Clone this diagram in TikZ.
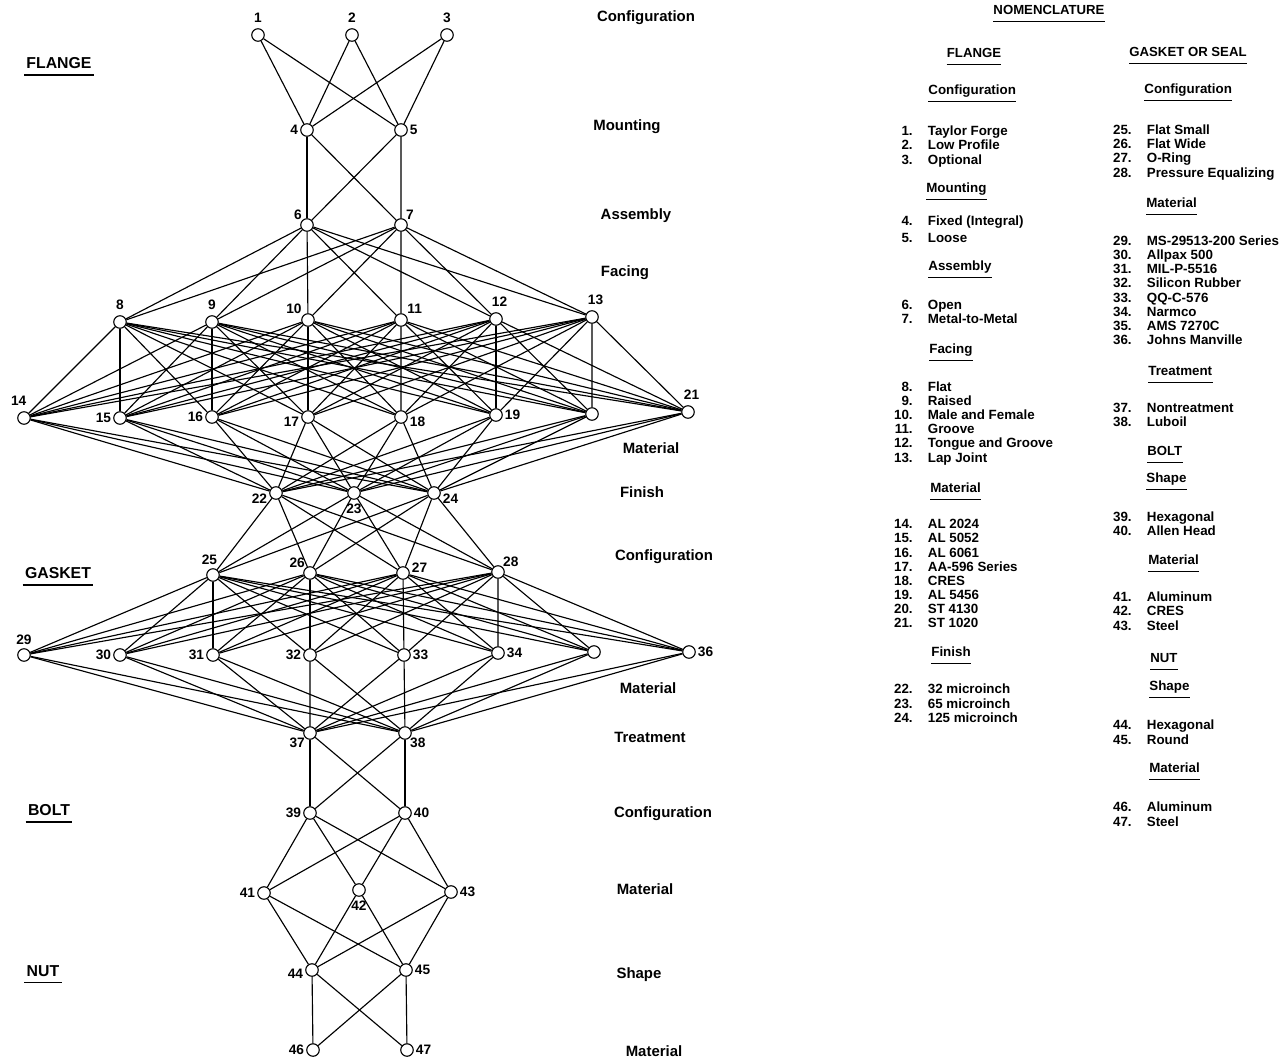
\documentclass[tikz,border=0pt]{standalone}
\usepackage{fontspec}
\setmainfont{Liberation Sans}
\usepackage{tikz}
\usetikzlibrary{positioning,calc}

\newcommand{\nomitems}[2]{%
  \foreach \k/\y/\t in {#2}
    {\node [item, anchor=base east] (k\k) at (#1,-\y) {\k.};
     \node [item, anchor=base west] (t\k) at ({#1+1.45},-\y) {\t};}}

\begin{document}
\begin{tikzpicture}[scale=0.2]
\tikzstyle{every node}+=[inner sep=0pt]
\tikzstyle{vtx}=[draw, circle, minimum size=0.25cm, line width=0.65pt, fill=white]
\tikzstyle{num}=[font=\bfseries\fontsize{7.8}{8}\selectfont]
\tikzstyle{lvl}=[font=\bfseries\fontsize{8.5}{10}\selectfont]
\tikzstyle{part}=[font=\bfseries\fontsize{9}{10}\selectfont]
\tikzstyle{head}=[font=\bfseries\fontsize{7.5}{9}\selectfont]
\tikzstyle{item}=[font=\bfseries\fontsize{7.6}{8}\selectfont]
\tikzstyle{edge}=[line width=0.65pt]
\useasboundingbox (0,0) rectangle (128.5,-106.2);

\node [vtx] (n1) at (25.8,-3.5) {};
\node [vtx] (n2) at (35.2,-3.5) {};
\node [vtx] (n3) at (44.7,-3.5) {};
\node [vtx] (n4) at (30.7,-13.0) {};
\node [vtx] (n5) at (40.1,-13.0) {};
\node [vtx] (n6) at (30.7,-22.5) {};
\node [vtx] (n7) at (40.1,-22.5) {};
\node [vtx] (n8) at (12.0,-32.2) {};
\node [vtx] (n9) at (21.2,-32.2) {};
\node [vtx] (n10) at (30.8,-32.0) {};
\node [vtx] (n11) at (40.1,-32.0) {};
\node [vtx] (n12) at (49.6,-31.9) {};
\node [vtx] (n13) at (59.2,-31.7) {};
\node [vtx] (n14) at (2.4,-41.8) {};
\node [vtx] (n15) at (12.0,-41.8) {};
\node [vtx] (n16) at (21.2,-41.7) {};
\node [vtx] (n17) at (30.8,-41.7) {};
\node [vtx] (n18) at (40.1,-41.7) {};
\node [vtx] (n19) at (49.6,-41.5) {};
\node [vtx] (n20) at (59.2,-41.4) {};
\node [vtx] (n21) at (68.8,-41.2) {};
\node [vtx] (n22) at (27.6,-49.3) {};
\node [vtx] (n23) at (35.4,-49.3) {};
\node [vtx] (n24) at (43.4,-49.3) {};
\node [vtx] (n25) at (21.3,-57.5) {};
\node [vtx] (n26) at (31.0,-57.3) {};
\node [vtx] (n27) at (40.3,-57.3) {};
\node [vtx] (n28) at (49.8,-57.2) {};
\node [vtx] (n29) at (2.4,-65.5) {};
\node [vtx] (n30) at (12.0,-65.5) {};
\node [vtx] (n31) at (21.3,-65.5) {};
\node [vtx] (n32) at (31.0,-65.5) {};
\node [vtx] (n33) at (40.4,-65.5) {};
\node [vtx] (n34) at (49.8,-65.3) {};
\node [vtx] (n35) at (59.4,-65.2) {};
\node [vtx] (n36) at (68.9,-65.2) {};
\node [vtx] (n37) at (31.0,-73.3) {};
\node [vtx] (n38) at (40.5,-73.3) {};
\node [vtx] (n39) at (31.0,-81.3) {};
\node [vtx] (n40) at (40.5,-81.3) {};
\node [vtx] (n41) at (26.4,-89.3) {};
\node [vtx] (n42) at (35.9,-89.0) {};
\node [vtx] (n43) at (45.1,-89.2) {};
\node [vtx] (n44) at (31.2,-97.0) {};
\node [vtx] (n45) at (40.6,-97.0) {};
\node [vtx] (n46) at (31.3,-105.0) {};
\node [vtx] (n47) at (40.7,-105.0) {};

\foreach \a in {1,2,3} \foreach \b in {4,5} \draw [edge] (n\a) -- (n\b);
\foreach \a in {4,5} \foreach \b in {6,7} \draw [edge] (n\a) -- (n\b);
\foreach \a in {6,7} \foreach \b in {8,...,13} \draw [edge] (n\a) -- (n\b);
\foreach \a in {8,...,13} \foreach \b in {14,...,21} \draw [edge] (n\a) -- (n\b);
\foreach \a in {14,...,21} \foreach \b in {22,23,24} \draw [edge] (n\a) -- (n\b);
\foreach \a in {22,23,24} \foreach \b in {25,...,28} \draw [edge] (n\a) -- (n\b);
\foreach \a in {25,...,28} \foreach \b in {29,...,36} \draw [edge] (n\a) -- (n\b);
\foreach \a in {29,...,36} \foreach \b in {37,38} \draw [edge] (n\a) -- (n\b);
\foreach \a in {37,38} \foreach \b in {39,40} \draw [edge] (n\a) -- (n\b);
\foreach \a in {39,40} \foreach \b in {41,42,43} \draw [edge] (n\a) -- (n\b);
\foreach \a in {41,42,43} \foreach \b in {44,45} \draw [edge] (n\a) -- (n\b);
\foreach \a in {44,45} \foreach \b in {46,47} \draw [edge] (n\a) -- (n\b);

\node [num, above=3pt of n1] (l1) {1};
\node [num, above=3pt of n2] (l2) {2};
\node [num, above=3pt of n3] (l3) {3};
\node [num, left=1pt of n4] (l4) {4};
\node [num, right=1pt of n5] (l5) {5};
\node [num, above left=0pt of n6] (l6) {6};
\node [num, above right=0pt of n7] (l7) {7};
\node [num, above=3pt of n8] (l8) {8};
\node [num, above=3pt of n9] (l9) {9};
\node [num, above left=1pt of n10] (l10) {10};
\node [num, above right=1pt of n11] (l11) {11};
\node [num, above=3pt of n12, xshift=2pt] (l12) {12};
\node [num, above=3pt of n13, xshift=2pt] (l13) {13};
\node [num, above=3pt of n14, xshift=-3pt] (l14) {14};
\node [num, left=1pt of n15] (l15) {15};
\node [num, left=1pt of n16] (l16) {16};
\node [num, left=1pt of n17, yshift=-3pt] (l17) {17};
\node [num, right=1pt of n18, yshift=-3pt] (l18) {18};
\node [num, right=1pt of n19] (l19) {19};
\node [num, above=3pt of n21, xshift=2pt] (l21) {21};
\node [num, left=1pt of n22, yshift=-3pt] (l22) {22};
\node [num, below=2pt of n23] (l23) {23};
\node [num, right=1pt of n24, yshift=-3pt] (l24) {24};
\node [num, above=2pt of n25, xshift=-2pt] (l25) {25};
\node [num, above left=0pt of n26] (l26) {26};
\node [num, right=1pt of n27, yshift=3pt] (l27) {27};
\node [num, above right=0pt of n28] (l28) {28};
\node [num, above=2pt of n29] (l29) {29};
\node [num, left=1pt of n30] (l30) {30};
\node [num, left=1pt of n31] (l31) {31};
\node [num, left=1pt of n32] (l32) {32};
\node [num, right=1pt of n33] (l33) {33};
\node [num, right=1pt of n34] (l34) {34};
\node [num, right=1pt of n36] (l36) {36};
\node [num, below left=0pt of n37] (l37) {37};
\node [num, below right=0pt of n38] (l38) {38};
\node [num, left=1pt of n39] (l39) {39};
\node [num, right=1pt of n40] (l40) {40};
\node [num, left=1pt of n41] (l41) {41};
\node [num, below=2pt of n42] (l42) {42};
\node [num, right=1pt of n43] (l43) {43};
\node [num, left=1pt of n44, yshift=-2pt] (l44) {44};
\node [num, right=1pt of n45] (l45) {45};
\node [num, left=1pt of n46] (l46) {46};
\node [num, right=1pt of n47] (l47) {47};

\node [lvl] (v1) at (64.6,-1.8) {Configuration};
\node [lvl] (v2) at (62.7,-12.7) {Mounting};
\node [lvl] (v3) at (63.6,-21.6) {Assembly};
\node [lvl] (v4) at (62.5,-27.3) {Facing};
\node [lvl] (v5) at (65.1,-44.8) {Material};
\node [lvl] (v6) at (64.2,-49.2) {Finish};
\node [lvl] (v7) at (66.4,-55.7) {Configuration};
\node [lvl] (v8) at (64.8,-68.8) {Material};
\node [lvl] (v9) at (65.0,-73.7) {Treatment};
\node [lvl] (v10) at (66.3,-81.4) {Configuration};
\node [lvl] (v11) at (64.5,-88.9) {Material};
\node [lvl] (v12) at (63.9,-97.5) {Shape};
\node [lvl] (v13) at (65.4,-105.1) {Material};

\node [part] (pflange) at (5.9,-6.3) {FLANGE};
\node [part] (pgasket) at (5.8,-57.3) {GASKET};
\node [part] (pbolt) at (4.9,-81.0) {BOLT};
\node [part] (pnut) at (4.3,-97.1) {NUT};
\foreach \p in {pflange,pgasket,pbolt,pnut}
  \draw [edge] ($(\p.base west)+(-0.2,-0.65)$) -- ($(\p.base east)+(0.2,-0.65)$);

\node [head] (hnom) at (104.9,-1.0) {NOMENCLATURE};
\node [head] (hflange) at (97.4,-5.3) {FLANGE};
\node [head] (hgasket) at (118.8,-5.2) {GASKET OR SEAL};
\node [item, anchor=west] (a1) at (92.8,-9.1) {Configuration};
\node [item, anchor=west] (a2) at (92.6,-18.9) {Mounting};
\node [item, anchor=west] (a3) at (92.8,-26.7) {Assembly};
\node [item, anchor=west] (a4) at (92.9,-35.0) {Facing};
\node [item, anchor=west] (a5) at (93.0,-48.8) {Material};
\node [item, anchor=west] (a6) at (93.1,-65.2) {Finish};
\node [item, anchor=west] (b1) at (114.4,-9.0) {Configuration};
\node [item, anchor=west] (b2) at (114.6,-20.3) {Material};
\node [item, anchor=west] (b3) at (114.8,-37.1) {Treatment};
\node [head, anchor=west] (b4) at (114.7,-45.1) {BOLT};
\node [item, anchor=west] (b5) at (114.6,-47.9) {Shape};
\node [item, anchor=west] (b6) at (114.8,-56.0) {Material};
\node [head, anchor=west] (b7) at (115.0,-65.8) {NUT};
\node [item, anchor=west] (b8) at (114.9,-68.7) {Shape};
\node [item, anchor=west] (b9) at (114.9,-76.8) {Material};
\foreach \h in {hnom,hflange,hgasket,a1,a2,a3,a4,a5,a6,b1,b2,b3,b4,b5,b6,b7,b8,b9}
  \draw [line width=0.55pt] ($(\h.base west)+(0,-0.7)$) -- ($(\h.base east)+(0,-0.7)$);

\nomitems{91.3}{1/13.5/Taylor Forge, 2/14.9/Low Profile, 3/16.4/Optional,
  4/22.5/Fixed (Integral), 5/24.2/Loose, 6/30.9/Open, 7/32.3/Metal-to-Metal,
  8/39.1/Flat, 9/40.5/Raised, 10/41.9/Male and Female, 11/43.3/Groove,
  12/44.7/Tongue and Groove, 13/46.2/Lap Joint,
  14/52.8/AL 2024, 15/54.2/AL 5052, 16/55.7/AL 6061, 17/57.1/AA-596 Series,
  18/58.5/CRES, 19/59.9/AL 5456, 20/61.3/ST 4130, 21/62.7/ST 1020,
  22/69.3/32 microinch, 23/70.8/65 microinch, 24/72.2/125 microinch}
\nomitems{113.2}{25/13.4/Flat Small, 26/14.8/Flat Wide, 27/16.2/O-Ring,
  28/17.7/Pressure Equalizing,
  29/24.5/MS-29513-200 Series, 30/25.9/Allpax 500, 31/27.3/MIL-P-5516,
  32/28.7/Silicon Rubber, 33/30.2/QQ-C-576, 34/31.6/Narmco, 35/33.0/AMS 7270C,
  36/34.4/Johns Manville, 37/41.2/Nontreatment, 38/42.6/Luboil,
  39/52.1/Hexagonal, 40/53.5/Allen Head, 41/60.1/Aluminum, 42/61.5/CRES,
  43/63.0/Steel, 44/72.9/Hexagonal, 45/74.4/Round, 46/81.1/Aluminum, 47/82.6/Steel}
\end{tikzpicture}
\end{document}
